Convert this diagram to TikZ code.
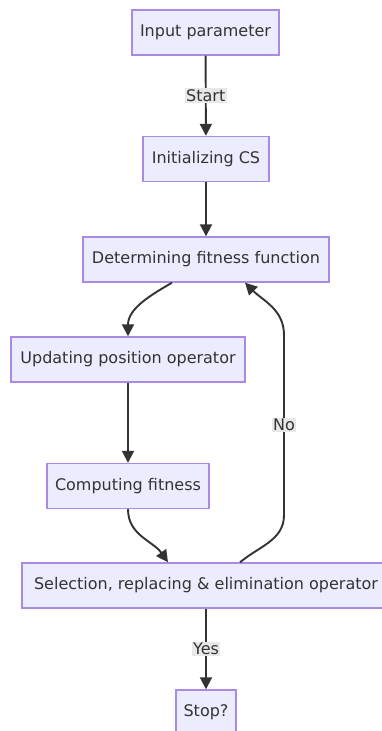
\documentclass[tikz,border=0pt]{standalone}
\usepackage{fontspec}
\setmainfont{DejaVu Sans}
\usetikzlibrary{arrows.meta}
\definecolor{boxfill}{HTML}{ECECFF}
\definecolor{boxline}{HTML}{A98BE3}
\definecolor{txt}{HTML}{333333}
\definecolor{edge}{HTML}{333333}
\definecolor{lblbg}{HTML}{E8E8E8}
\tikzset{
  box/.style={draw=boxline, line width=1.4pt, fill=boxfill, text=txt, minimum height=45pt, inner sep=0pt,
    font=\fontsize{16}{19}\selectfont},
  conn/.style={draw=edge, line width=1.9pt, -{Triangle[length=12pt,width=12pt]}},
  lbl/.style={fill=lblbg, text=txt, inner sep=1.5pt, font=\fontsize{16}{19}\selectfont}
}
\begin{document}
\begin{tikzpicture}[x=1pt,y=-1pt]
\useasboundingbox (0,0) rectangle (382,731);
\fill[white] (0,0) rectangle (382,731);
\node[box, minimum width=147pt] (inp) at (205.5,32.5) {Input parameter};
\node[box, minimum width=126pt] (ini) at (206,159) {Initializing CS};
\node[box, minimum width=246pt] (det) at (206,259.5) {Determining fitness function};
\node[box, minimum width=234pt] (upd) at (128,359.5) {Updating position operator};
\node[box, minimum width=162pt] (cmp) at (128,486) {Computing fitness};
\node[box, minimum width=368pt] (sel) at (206,585.5) {Selection, replacing \& elimination operator};
\node[box, minimum width=60pt] (stp) at (206,712.5) {Stop?};
\coordinate (nlow) at (284,515);
\coordinate (nhigh) at (284,335);

\draw[conn] (inp) -- node[lbl] {Start} (ini);
\draw[conn] (ini) -- (det);
\draw[conn] ([xshift=-34pt]det.south) to[out=-150,in=90] (upd.north);
\draw[conn] (upd) -- (cmp);
\draw[conn] (cmp.south) to[out=-90,in=125] ([xshift=-38pt]sel.north);
\draw[conn] ([xshift=34pt]sel.north) to[out=40,in=-90] (nlow) -- node[lbl] {No} (nhigh) to[out=90,in=-45] ([xshift=39pt]det.south);
\draw[conn] (sel) -- node[lbl] {Yes} (stp);
\end{tikzpicture}
\end{document}
